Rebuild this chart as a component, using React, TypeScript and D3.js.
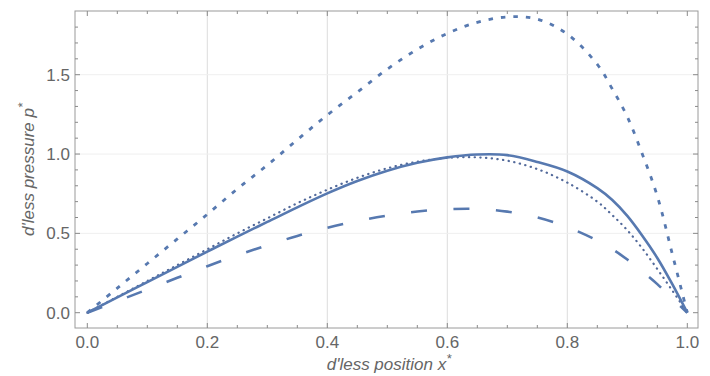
import React from "react";
import * as d3 from "d3";

// x positions shared by all four curves
const xPos = [0, 0.05, 0.1, 0.15, 0.2, 0.25, 0.3, 0.35, 0.4, 0.45, 0.5, 0.55, 0.6, 0.65, 0.7, 0.75, 0.8, 0.85, 0.875, 0.9, 0.925, 0.95, 0.975, 1];

const solidP = [0, 0.097, 0.193, 0.289, 0.385, 0.48, 0.572, 0.664, 0.752, 0.83, 0.895, 0.945, 0.979, 0.997, 0.993, 0.95, 0.89, 0.785, 0.71, 0.61, 0.485, 0.345, 0.18, 0];
const fineDotP = [0, 0.1, 0.2, 0.3, 0.4, 0.5, 0.595, 0.69, 0.775, 0.85, 0.91, 0.952, 0.976, 0.979, 0.958, 0.905, 0.82, 0.7, 0.615, 0.52, 0.405, 0.275, 0.14, 0];
const dashedP = [0, 0.073, 0.146, 0.22, 0.293, 0.362, 0.425, 0.484, 0.535, 0.578, 0.612, 0.638, 0.652, 0.654, 0.637, 0.6, 0.54, 0.455, 0.4, 0.335, 0.26, 0.18, 0.09, 0];
const bigDotP = [0, 0.155, 0.31, 0.465, 0.62, 0.78, 0.93, 1.09, 1.246, 1.39, 1.535, 1.66, 1.76, 1.83, 1.864, 1.85, 1.756, 1.565, 1.41, 1.235, 1.0, 0.735, 0.37, 0];

const xMajor = [0, 0.2, 0.4, 0.6, 0.8, 1.0];
const yMajor = [0, 0.5, 1.0, 1.5];
const xGrid = [0.2, 0.4, 0.6, 0.8];
const yGrid = [0.5, 1.0, 1.5];

const W = 710, H = 376;
const frame = { left: 75, right: 698, top: 11, bottom: 328 };
const blue = "#5779b0";
const font = "'Liberation Sans', Arial, sans-serif";

export default function App() {
  const x = d3.scaleLinear().domain([0, 1]).range([87.3, 687.3]);
  const y = d3.scaleLinear().domain([0, 1.5]).range([312.7, 74.7]);

  const line = d3.line<number>()
    .x((d, i) => x(xPos[i]))
    .y(d => y(d))
    .curve(d3.curveCatmullRom.alpha(0.5));

  const xMinor = d3.range(0, 1.0001, 0.05);
  const yMinor = d3.range(0, 1.85, 0.1);
  const isMajX = (v: number) => xMajor.some(m => Math.abs(m - v) < 1e-6);
  const isMajY = (v: number) => yMajor.some(m => Math.abs(m - v) < 1e-6);

  return (
    <svg width={W} height={H} style={{ position: "absolute", left: 0, top: 0, background: "#fff" }}>
      {/* grid */}
      {xGrid.map(v => (
        <line key={"gx" + v} x1={x(v)} x2={x(v)} y1={frame.top} y2={frame.bottom} stroke="#dcdcdc" strokeWidth={1} />
      ))}
      {yGrid.map(v => (
        <line key={"gy" + v} x1={frame.left} x2={frame.right} y1={y(v)} y2={y(v)} stroke="#efefef" strokeWidth={1} />
      ))}

      {/* curves */}
      <path d={line(dashedP) || ""} fill="none" stroke={blue} strokeWidth={2.6} strokeDasharray="16,26.5" />
      <path d={line(fineDotP) || ""} fill="none" stroke="#52699a" strokeWidth={2.2} strokeDasharray="0.3,5.4" strokeLinecap="round" />
      <path d={line(bigDotP) || ""} fill="none" stroke={blue} strokeWidth={2.8} strokeDasharray="4.5,8" />
      <path d={line(solidP) || ""} fill="none" stroke={blue} strokeWidth={2.6} />

      {/* frame */}
      <rect x={frame.left} y={frame.top} width={frame.right - frame.left} height={frame.bottom - frame.top}
        fill="none" stroke="#9a9a9a" strokeWidth={1} />

      {/* ticks */}
      {xMinor.map(v => {
        const len = isMajX(v) ? 5 : 3;
        return (
          <g key={"tx" + v}>
            <line x1={x(v)} x2={x(v)} y1={frame.bottom} y2={frame.bottom - len} stroke="#8a8a8a" />
            <line x1={x(v)} x2={x(v)} y1={frame.top} y2={frame.top + len} stroke="#8a8a8a" />
          </g>
        );
      })}
      {yMinor.map(v => {
        const len = isMajY(v) ? 5 : 3;
        return (
          <g key={"ty" + v}>
            <line x1={frame.left} x2={frame.left + len} y1={y(v)} y2={y(v)} stroke="#8a8a8a" />
            <line x1={frame.right} x2={frame.right - len} y1={y(v)} y2={y(v)} stroke="#8a8a8a" />
          </g>
        );
      })}

      {/* tick labels */}
      {xMajor.map(v => (
        <text key={"lx" + v} x={x(v)} y={348} textAnchor="middle" fontFamily={font} fontSize={17} fill="#666">
          {d3.format(".1f")(v)}
        </text>
      ))}
      {yMajor.map(v => (
        <text key={"ly" + v} x={70} y={y(v) + 6} textAnchor="end" fontFamily={font} fontSize={17} fill="#666">
          {d3.format(".1f")(v)}
        </text>
      ))}

      {/* axis titles */}
      <text x={389} y={370} textAnchor="middle" fontFamily={font} fontSize={17} fontStyle="italic" fill="#666">
        d'less position x<tspan dy={-7} fontSize={13}>*</tspan>
      </text>
      <text transform={`translate(34,${(frame.top + frame.bottom) / 2}) rotate(-90)`} textAnchor="middle"
        fontFamily={font} fontSize={17} fontStyle="italic" fill="#666">
        d'less pressure p<tspan dy={-7} fontSize={13}>*</tspan>
      </text>
    </svg>
  );
}
